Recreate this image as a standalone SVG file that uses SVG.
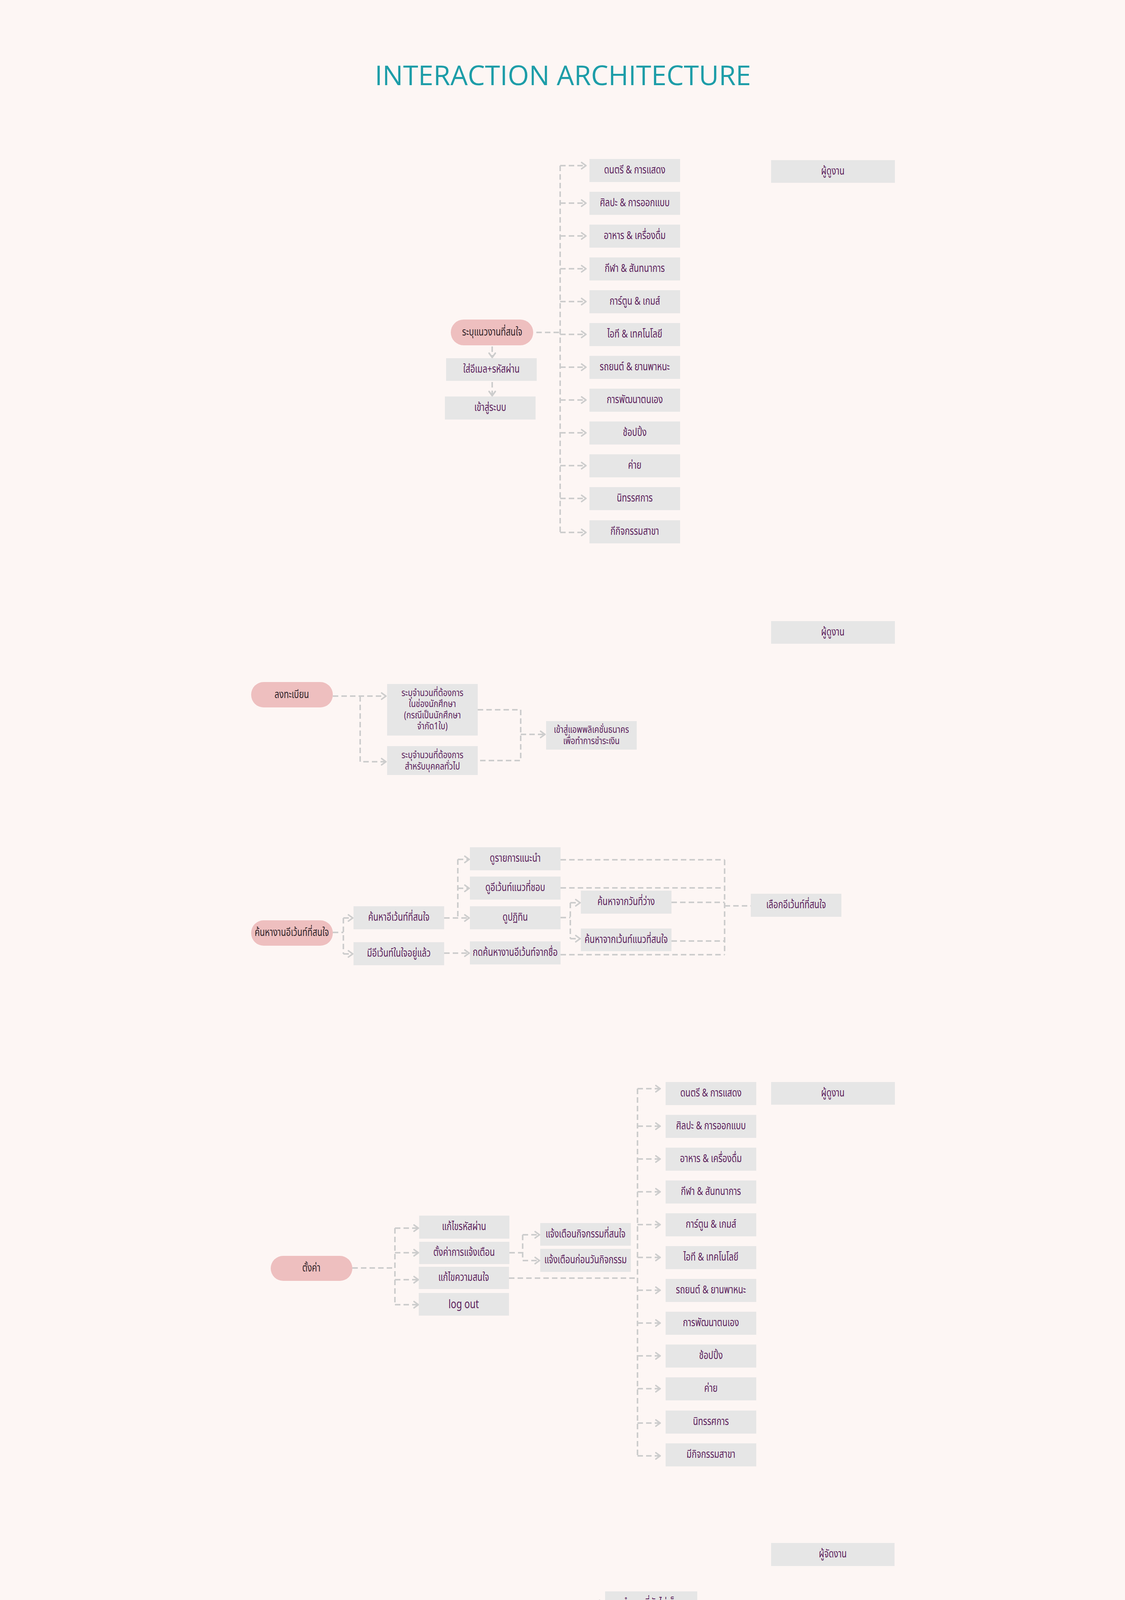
<svg xmlns="http://www.w3.org/2000/svg" width="2880" height="7128" viewBox="0 0 2880 7128">
<defs>
<style>
.box{fill:#e6e6e6}
.red{fill:#ff3434}
.pill{fill:#eebfbf}
.t{font-family:'Noto Sans Thai','Noto Sans','DejaVu Sans',sans-serif;font-size:28px;fill:#5c1e5c;text-anchor:middle;dominant-baseline:central}
.m{font-size:25px}
.pt{font-family:'Noto Sans Thai','Noto Sans','DejaVu Sans',sans-serif;font-size:28px;fill:#2e2228;text-anchor:middle;dominant-baseline:central}
.c{fill:none;stroke:#cdcdcd;stroke-width:4;stroke-dasharray:14 8}
.s{fill:none;stroke:#cdcdcd;stroke-width:4}
.a{marker-end:url(#ah)}
</style>
<marker id="ah" viewBox="0 0 16 20" refX="14" refY="10" markerWidth="16" markerHeight="20" markerUnits="userSpaceOnUse" orient="auto">
<path d="M3,2 L14,10 L3,18" fill="none" stroke="#cdcdcd" stroke-width="4" stroke-linecap="round" stroke-linejoin="round"/>
</marker>
</defs>
<rect x="0" y="0" width="2880" height="7128" fill="#fdf6f4"/>
<text x="1441" y="218" font-family="'Open Sans','Noto Sans',sans-serif" font-size="70" fill="#1d9da8" text-anchor="middle" textLength="963" lengthAdjust="spacingAndGlyphs">INTERACTION ARCHITECTURE</text>

<g id="connectors">
<path class="c a" d="M1260,887 V915"/>
<path class="c a" d="M1260,978 V1013"/>
<path class="c" d="M1373,851 H1434"/>
<path class="c" d="M1434,424 V1363"/>
<path class="c a" d="M1434,424 H1500"/>
<path class="c a" d="M1434,520 H1500"/>
<path class="c a" d="M1434,604 H1500"/>
<path class="c a" d="M1434,688 H1500"/>
<path class="c a" d="M1434,772 H1500"/>
<path class="c a" d="M1434,856 H1500"/>
<path class="c a" d="M1434,940 H1500"/>
<path class="c a" d="M1434,1024 H1500"/>
<path class="c a" d="M1434,1108 H1500"/>
<path class="c a" d="M1434,1192 H1500"/>
<path class="c a" d="M1434,1276 H1500"/>
<path class="c a" d="M1434,1363 H1500"/>
<path class="c a" d="M852,1782 H988"/>
<path class="c a" d="M922,1782 V1950 H988"/>
<path class="c" d="M1223,1817 H1333 V1947 H1223"/>
<path class="c a" d="M1333,1880 H1395"/>
<path class="c" d="M852,2387 H879"/>
<path class="c" d="M879,2350 V2442"/>
<path class="c a" d="M879,2350 H903"/>
<path class="c a" d="M879,2442 H903"/>
<path class="c a" d="M1137,2350 H1201"/>
<path class="c" d="M1172,2200 V2350"/>
<path class="c a" d="M1172,2200 H1201"/>
<path class="c a" d="M1172,2274 H1201"/>
<path class="c a" d="M1137,2440 H1201"/>
<path class="c" d="M1435,2349 H1460"/>
<path class="c" d="M1460,2311 V2403"/>
<path class="c a" d="M1460,2311 H1485"/>
<path class="c a" d="M1460,2403 H1485"/>
<path class="c" d="M1435,2201 H1855"/>
<path class="c" d="M1435,2273 H1855"/>
<path class="c" d="M1719,2310 H1855"/>
<path class="c" d="M1719,2409 H1855"/>
<path class="c" d="M1435,2444 H1855"/>
<path class="c" d="M1855,2201 V2444"/>
<path class="c" d="M1855,2319 H1922"/>
<path class="c" d="M902,3246 H1011"/>
<path class="c" d="M1011,3144 V3340"/>
<path class="c a" d="M1011,3144 H1071"/>
<path class="c a" d="M1011,3207 H1071"/>
<path class="c a" d="M1011,3276 H1071"/>
<path class="c a" d="M1011,3340 H1071"/>
<path class="c" d="M1304,3207 H1338"/>
<path class="c" d="M1338,3161 V3227"/>
<path class="c a" d="M1338,3161 H1381"/>
<path class="c a" d="M1338,3227 H1381"/>
<path class="c" d="M1303,3272 H1632"/>
<path class="c" d="M1632,2787 V3727"/>
<path class="c a" d="M1632,2787 H1690"/>
<path class="c a" d="M1632,2883 H1690"/>
<path class="c a" d="M1632,2967 H1690"/>
<path class="c a" d="M1632,3051 H1690"/>
<path class="c a" d="M1632,3135 H1690"/>
<path class="c a" d="M1632,3219 H1690"/>
<path class="c a" d="M1632,3303 H1690"/>
<path class="c a" d="M1632,3387 H1690"/>
<path class="c a" d="M1632,3471 H1690"/>
<path class="c a" d="M1632,3555 H1690"/>
<path class="c a" d="M1632,3643 H1690"/>
<path class="c a" d="M1632,3727 H1690"/>
<path class="c" d="M1031,4405 H1152"/>
<path class="c" d="M1152,4170 V4701"/>
<path class="c a" d="M1152,4170 H1212"/>
<path class="c a" d="M1152,4280 H1212"/>
<path class="c a" d="M1152,4380 H1212"/>
<path class="c a" d="M1152,4500 H1212"/>
<path class="c a" d="M1152,4609 H1212"/>
<path class="c a" d="M1152,4701 H1212"/>
<path class="c" d="M1483,4189 H1514"/>
<path class="c" d="M1514,4105 V4189"/>
<path class="c a" d="M1514,4105 H1546"/>
<path class="c a" d="M1514,4189 H1546"/>
<path class="c" d="M1478,4278 H1846"/>
<path class="c" d="M1813,4198 V4278"/>
<path class="c" d="M1813,4198 H1846"/>
<path class="c" d="M1483,4391 H1511"/>
<path class="c" d="M1511,4391 V4461"/>
<path class="c a" d="M1511,4391 H1545"/>
<path class="c a" d="M1511,4461 H1545"/>
<path class="c" d="M1783,4459 H1815"/>
<path class="c" d="M1815,4393 V4459"/>
<path class="c a" d="M1815,4393 H1846"/>
<path class="c a" d="M1815,4459 H1846"/>
<path class="c" d="M1487,4607 H1513"/>
<path class="c" d="M1513,4536 V4607"/>
<path class="c a" d="M1513,4536 H1543"/>
<path class="c a" d="M1513,4607 H1543"/>
<path class="c" d="M1487,4689 H1516"/>
<path class="c" d="M1516,4689 V4758"/>
<path class="c a" d="M1516,4689 H1547"/>
<path class="c a" d="M1516,4758 H1547"/>
<path class="c" d="M902,5606 H1015"/>
<path class="c a" d="M958,5606 V5272 H1073"/>
<path class="c" d="M1015,5370 V5902"/>
<path class="c a" d="M1015,5370 H1073"/>
<path class="c a" d="M1015,5435 H1073"/>
<path class="c a" d="M1015,5504 H1073"/>
<path class="c a" d="M1015,5568 H1073"/>
<path class="c a" d="M1015,5636 H1073"/>
<path class="c a" d="M1015,5700 H1073"/>
<path class="c a" d="M1015,5770 H1073"/>
<path class="c a" d="M1015,5835 H1073"/>
<path class="c a" d="M1015,5902 H1073"/>
<path class="c" d="M1308,5835 H1338"/>
<path class="c" d="M1338,5770 V5835"/>
<path class="c a" d="M1338,5770 H1365"/>
<path class="c a" d="M1338,5835 H1365"/>
<path class="c" d="M1308,5902 H1338"/>
<path class="c" d="M1338,5902 V5970"/>
<path class="c a" d="M1338,5902 H1365"/>
<path class="c a" d="M1338,5970 H1365"/>
<path class="c" d="M1600,5968 H1633"/>
<path class="c" d="M1633,5904 V5968"/>
<path class="c a" d="M1633,5904 H1659"/>
<path class="c a" d="M1633,5968 H1659"/>
<path class="c a" d="M1894,5899 H1953"/>
<path class="c a" d="M1431,6616 H1324 V6669"/>
<path class="c a" d="M1641,6616 H1727 V6669"/>
<path class="s a" d="M1322,6771 V6799"/>
<path class="s a" d="M1322,6864 V6913"/>
<path class="c" d="M1068,6891 H1575"/>
<path class="c a" d="M1068,6891 V6913"/>
<path class="c a" d="M1575,6891 V6913"/>
</g>

<g id="s1-role"><rect class="box" x="1974" y="410" width="317" height="58"/><text class="t" transform="translate(2132 439) scale(0.76 1)">ผู้ดูงาน</text></g>
<g id="s1-pill"><rect class="pill" x="1154" y="818" width="211" height="66" rx="33"/><text class="pt" transform="translate(1260 851) scale(0.76 1)">ระบุแนวงานที่สนใจ</text></g>
<g id="s1-email"><rect class="box" x="1142" y="917" width="232" height="58"/><text class="t" transform="translate(1258 946) scale(0.76 1)">ใส่อีเมล+รหัสผ่าน</text></g>
<g id="s1-login"><rect class="box" x="1139" y="1015" width="232" height="59"/><text class="t" transform="translate(1255 1044) scale(0.76 1)">เข้าสู่ระบบ</text></g>
<g id="s1-c1"><rect class="box" x="1509" y="407" width="232" height="59"/><text class="t" transform="translate(1625 436) scale(0.76 1)">ดนตรี &amp; การแสดง</text></g>
<g id="s1-c2"><rect class="box" x="1509" y="491" width="232" height="59"/><text class="t" transform="translate(1625 520) scale(0.76 1)">ศิลปะ &amp; การออกแบบ</text></g>
<g id="s1-c3"><rect class="box" x="1509" y="575" width="232" height="59"/><text class="t" transform="translate(1625 604) scale(0.76 1)">อาหาร &amp; เครื่องดื่ม</text></g>
<g id="s1-c4"><rect class="box" x="1509" y="659" width="232" height="59"/><text class="t" transform="translate(1625 688) scale(0.76 1)">กีฬา &amp; สันทนาการ</text></g>
<g id="s1-c5"><rect class="box" x="1509" y="743" width="232" height="59"/><text class="t" transform="translate(1625 772) scale(0.76 1)">การ์ตูน &amp; เกมส์</text></g>
<g id="s1-c6"><rect class="box" x="1509" y="827" width="232" height="59"/><text class="t" transform="translate(1625 856) scale(0.76 1)">ไอที &amp; เทคโนโลยี</text></g>
<g id="s1-c7"><rect class="box" x="1509" y="911" width="232" height="59"/><text class="t" transform="translate(1625 940) scale(0.76 1)">รถยนต์ &amp; ยานพาหนะ</text></g>
<g id="s1-c8"><rect class="box" x="1509" y="995" width="232" height="59"/><text class="t" transform="translate(1625 1024) scale(0.76 1)">การพัฒนาตนเอง</text></g>
<g id="s1-c9"><rect class="box" x="1509" y="1079" width="232" height="59"/><text class="t" transform="translate(1625 1108) scale(0.76 1)">ช้อปปิ้ง</text></g>
<g id="s1-c10"><rect class="box" x="1509" y="1163" width="232" height="59"/><text class="t" transform="translate(1625 1192) scale(0.76 1)">ค่าย</text></g>
<g id="s1-c11"><rect class="box" x="1509" y="1247" width="232" height="59"/><text class="t" transform="translate(1625 1276) scale(0.76 1)">นิทรรศการ</text></g>
<g id="s1-c12"><rect class="box" x="1509" y="1332" width="232" height="59"/><text class="t" transform="translate(1625 1361) scale(0.76 1)">กีกิจกรรมสาขา</text></g>

<g id="s2-role"><rect class="box" x="1974" y="1590" width="317" height="58"/><text class="t" transform="translate(2132 1619) scale(0.76 1)">ผู้ดูงาน</text></g>
<g id="s2-pill"><rect class="pill" x="643" y="1746" width="209" height="65" rx="32"/><text class="pt" transform="translate(747 1779) scale(0.76 1)">ลงทะเบียน</text></g>
<g id="s2-student"><rect class="box" x="991" y="1751" width="232" height="132"/>
<text class="t m" transform="translate(1107 1774) scale(0.8 1)">ระบุจำนวนที่ต้องการ</text>
<text class="t m" transform="translate(1107 1802) scale(0.8 1)">ในช่องนักศึกษา</text>
<text class="t m" transform="translate(1107 1831) scale(0.8 1)">(กรณีเป็นนักศึกษา</text>
<text class="t m" transform="translate(1107 1859) scale(0.8 1)">จำกัด1ใบ)</text></g>
<g id="s2-general"><rect class="box" x="991" y="1910" width="232" height="74"/>
<text class="t m" transform="translate(1107 1933) scale(0.8 1)">ระบุจำนวนที่ต้องการ</text>
<text class="t m" transform="translate(1107 1962) scale(0.8 1)">สำหรับบุคคลทั่วไป</text></g>
<g id="s2-bank"><rect class="box" x="1398" y="1846" width="232" height="73"/>
<text class="t m" transform="translate(1514 1868) scale(0.8 1)">เข้าสู่แอพพลิเคชั่นธนาคร</text>
<text class="t m" transform="translate(1514 1897) scale(0.8 1)">เพื่อทำการชำระเงิน</text></g>

<g id="s3-pill"><rect class="pill" x="643" y="2356" width="209" height="65" rx="32"/><text class="pt" transform="translate(747 2388) scale(0.76 1)">ค้นหางานอีเว้นท์ที่สนใจ</text></g>
<g id="s3-search"><rect class="box" x="905" y="2320" width="232" height="59"/><text class="t" transform="translate(1021 2349) scale(0.76 1)">ค้นหาอีเว้นท์ที่สนใจ</text></g>
<g id="s3-have"><rect class="box" x="905" y="2412" width="232" height="59"/><text class="t" transform="translate(1021 2441) scale(0.76 1)">มีอีเว้นท์ในใจอยู่แล้ว</text></g>
<g id="s3-rec"><rect class="box" x="1203" y="2169" width="232" height="59"/><text class="t" transform="translate(1319 2198) scale(0.76 1)">ดูรายการแนะนำ</text></g>
<g id="s3-genre"><rect class="box" x="1203" y="2244" width="232" height="59"/><text class="t" transform="translate(1319 2273) scale(0.76 1)">ดูอีเว้นท์แนวที่ชอบ</text></g>
<g id="s3-cal"><rect class="box" x="1203" y="2320" width="232" height="59"/><text class="t" transform="translate(1319 2349) scale(0.76 1)">ดูปฏิทิน</text></g>
<g id="s3-name"><rect class="box" x="1203" y="2410" width="232" height="59"/><text class="t" transform="translate(1319 2439) scale(0.76 1)">กดค้นหางานอีเว้นท์จากชื่อ</text></g>
<g id="s3-free"><rect class="box" x="1487" y="2280" width="232" height="59"/><text class="t" transform="translate(1603 2309) scale(0.76 1)">ค้นหาจากวันที่ว่าง</text></g>
<g id="s3-type"><rect class="box" x="1487" y="2377" width="232" height="58"/><text class="t" transform="translate(1603 2406) scale(0.76 1)">ค้นหาจากเว้นท์แนวที่สนใจ</text></g>
<g id="s3-pick"><rect class="box" x="1922" y="2288" width="232" height="59"/><text class="t" transform="translate(2038 2317) scale(0.76 1)">เลือกอีเว้นท์ที่สนใจ</text></g>

<g id="s4-role"><rect class="box" x="1974" y="2770" width="317" height="58"/><text class="t" transform="translate(2132 2799) scale(0.76 1)">ผู้ดูงาน</text></g>
<g id="s4-pill"><rect class="pill" x="693" y="3215" width="209" height="64" rx="32"/><text class="pt" transform="translate(797 3247) scale(0.76 1)">ตั้งค่า</text></g>
<g id="s4-pass"><rect class="box" x="1073" y="3112" width="231" height="59"/><text class="t" transform="translate(1188 3141) scale(0.76 1)">แก้ไขรหัสผ่าน</text></g>
<g id="s4-noti"><rect class="box" x="1073" y="3179" width="231" height="57"/><text class="t" transform="translate(1188 3207) scale(0.76 1)">ตั้งค่าการแจ้งเตือน</text></g>
<g id="s4-interest"><rect class="box" x="1072" y="3243" width="231" height="57"/><text class="t" transform="translate(1187 3271) scale(0.76 1)">แก้ไขความสนใจ</text></g>
<g id="s4-logout"><rect class="box" x="1072" y="3310" width="231" height="58"/><text class="t" transform="translate(1187 3339) scale(0.76 1)" style="font-size:31px">log out</text></g>
<g id="s4-n1"><rect class="box" x="1383" y="3131" width="232" height="58"/><text class="t" transform="translate(1499 3160) scale(0.76 1)">แจ้งเตือนกิจกรรมที่สนใจ</text></g>
<g id="s4-n2"><rect class="box" x="1383" y="3197" width="232" height="59"/><text class="t" transform="translate(1499 3226) scale(0.76 1)">แจ้งเตือนก่อนวันกิจกรรม</text></g>
<g id="s4-c1"><rect class="box" x="1704" y="2770" width="232" height="59"/><text class="t" transform="translate(1820 2799) scale(0.76 1)">ดนตรี &amp; การแสดง</text></g>
<g id="s4-c2"><rect class="box" x="1704" y="2854" width="232" height="59"/><text class="t" transform="translate(1820 2883) scale(0.76 1)">ศิลปะ &amp; การออกแบบ</text></g>
<g id="s4-c3"><rect class="box" x="1704" y="2938" width="232" height="59"/><text class="t" transform="translate(1820 2967) scale(0.76 1)">อาหาร &amp; เครื่องดื่ม</text></g>
<g id="s4-c4"><rect class="box" x="1704" y="3022" width="232" height="59"/><text class="t" transform="translate(1820 3051) scale(0.76 1)">กีฬา &amp; สันทนาการ</text></g>
<g id="s4-c5"><rect class="box" x="1704" y="3106" width="232" height="59"/><text class="t" transform="translate(1820 3135) scale(0.76 1)">การ์ตูน &amp; เกมส์</text></g>
<g id="s4-c6"><rect class="box" x="1704" y="3190" width="232" height="59"/><text class="t" transform="translate(1820 3219) scale(0.76 1)">ไอที &amp; เทคโนโลยี</text></g>
<g id="s4-c7"><rect class="box" x="1704" y="3274" width="232" height="59"/><text class="t" transform="translate(1820 3303) scale(0.76 1)">รถยนต์ &amp; ยานพาหนะ</text></g>
<g id="s4-c8"><rect class="box" x="1704" y="3358" width="232" height="59"/><text class="t" transform="translate(1820 3387) scale(0.76 1)">การพัฒนาตนเอง</text></g>
<g id="s4-c9"><rect class="box" x="1704" y="3442" width="232" height="59"/><text class="t" transform="translate(1820 3471) scale(0.76 1)">ช้อปปิ้ง</text></g>
<g id="s4-c10"><rect class="box" x="1704" y="3526" width="232" height="59"/><text class="t" transform="translate(1820 3555) scale(0.76 1)">ค่าย</text></g>
<g id="s4-c11"><rect class="box" x="1704" y="3611" width="232" height="59"/><text class="t" transform="translate(1820 3640) scale(0.76 1)">นิทรรศการ</text></g>
<g id="s4-c12"><rect class="box" x="1704" y="3695" width="232" height="59"/><text class="t" transform="translate(1820 3724) scale(0.76 1)">มีกิจกรรมสาขา</text></g>

<g id="s5-role"><rect class="box" x="1974" y="3950" width="316" height="59"/><text class="t" transform="translate(2132 3979) scale(0.76 1)">ผู้จัดงาน</text></g>
<g id="s5-pill"><rect class="pill" x="796" y="4367" width="235" height="65" rx="32"/><text class="pt" transform="translate(913 4400) scale(0.76 1)">เช็คผู้เข้าร่วม</text></g>
<g id="s5-a1"><rect class="box" x="1242" y="4145" width="236" height="60"/><text class="t" transform="translate(1360 4175) scale(0.76 1)">เช็คจำนวนผู้ลงทะเบียน</text></g>
<g id="s5-a2"><rect class="box" x="1242" y="4249" width="236" height="60"/><text class="t" transform="translate(1360 4279) scale(0.76 1)">เช็ครายชื่อผู้ลงทะเบียน</text></g>
<g id="s5-a3"><rect class="box" x="1242" y="4349" width="236" height="60"/><text class="t" transform="translate(1360 4379) scale(0.76 1)">เช็คสัดส่วนผู้ลงทะเบียน</text></g>
<g id="s5-a4"><rect class="box" x="1242" y="4444" width="236" height="60"/><text class="t" transform="translate(1360 4474) scale(0.76 1)">เปิดระบบสแกนก่อนเข้างาน</text></g>
<g id="s5-a5"><rect class="box" x="1242" y="4577" width="236" height="60"/><text class="t" transform="translate(1360 4607) scale(0.76 1)">จัดการผู้ลงทะเบียน</text></g>
<g id="s5-a6"><rect class="box" x="1242" y="4669" width="236" height="60"/><text class="t" transform="translate(1360 4699) scale(0.76 1)">เช็คจำนวนผู้เข้าร่วม</text></g>
<g id="s5-b1"><rect class="box" x="1549" y="4074" width="236" height="60"/><text class="t" transform="translate(1667 4104) scale(0.76 1)">จำนวนที่ยังไม่เต็ม</text></g>
<g id="s5-b2"><rect class="box" x="1549" y="4161" width="236" height="60"/><text class="t" transform="translate(1667 4191) scale(0.76 1)">จำนวนที่เต็มแล้ว</text></g>
<g id="s5-b3"><rect class="box" x="1547" y="4353" width="236" height="60"/><text class="t" transform="translate(1665 4383) scale(0.76 1)">เพศ</text></g>
<g id="s5-b4"><rect class="box" x="1547" y="4436" width="236" height="60"/><text class="t" transform="translate(1665 4466) scale(0.76 1)">บัตร</text></g>
<g id="s5-b5"><rect class="red" x="1545" y="4503" width="236" height="60"/><text class="t" transform="translate(1663 4533) scale(0.76 1)">บล็อก</text></g>
<g id="s5-b6"><rect class="box" x="1545" y="4578" width="236" height="60"/><text class="t" transform="translate(1663 4608) scale(0.76 1)">กดยืนยันการมา</text></g>
<g id="s5-b7"><rect class="box" x="1549" y="4661" width="236" height="60"/><text class="t" transform="translate(1667 4691) scale(0.76 1)">จำนวนที่ยังไม่เต็ม</text></g>
<g id="s5-b8"><rect class="box" x="1549" y="4744" width="236" height="60"/><text class="t" transform="translate(1667 4774) scale(0.76 1)">จำนวนที่เต็มแล้ว</text></g>
<g id="s5-d1"><rect class="box" x="1846" y="4167" width="236" height="59"/><text class="t" transform="translate(1964 4196) scale(0.76 1)">ดูเวลาในการลงทะเบียน</text></g>
<g id="s5-d2"><rect class="box" x="1846" y="4240" width="236" height="76"/>
<text class="t m" transform="translate(1964 4263) scale(0.8 1)">สำหรับตรวจสอบเมื่อมีคน</text>
<text class="t m" transform="translate(1964 4292) scale(0.8 1)">โทรมาถาม</text></g>
<g id="s5-d3"><rect class="box" x="1848" y="4353" width="236" height="60"/><text class="t" transform="translate(1966 4383) scale(0.76 1)">นักศึกษา</text></g>
<g id="s5-d4"><rect class="box" x="1848" y="4436" width="236" height="60"/><text class="t" transform="translate(1966 4466) scale(0.76 1)">บุคคลทั่วไป</text></g>

<g id="s6-role"><rect class="box" x="1974" y="5130" width="317" height="58"/><text class="t" transform="translate(2132 5159) scale(0.76 1)">ผู้จัดงาน</text></g>
<g id="s6-pill"><rect class="pill" x="692" y="5575" width="210" height="65" rx="32"/><text class="pt" transform="translate(797 5607) scale(0.76 1)">พิมพ์รายละเอียดงาน</text></g>
<g id="s6-a0"><rect class="box" x="1077" y="5242" width="231" height="59"/><text class="t" transform="translate(1192 5271) scale(0.76 1)">ดูตัวอย่างการพิมพ์</text></g>
<g id="s6-a1"><rect class="box" x="1077" y="5340" width="231" height="59"/><text class="t" transform="translate(1192 5369) scale(0.76 1)">โปสเตอร์</text></g>
<g id="s6-a2"><rect class="box" x="1077" y="5406" width="231" height="59"/><text class="t" transform="translate(1192 5435) scale(0.76 1)">ชื่องาน</text></g>
<g id="s6-a3"><rect class="box" x="1077" y="5472" width="231" height="59"/><text class="t" transform="translate(1192 5501) scale(0.76 1)">วัน และเวลากิจกรรม</text></g>
<g id="s6-a4"><rect class="box" x="1077" y="5538" width="231" height="59"/><text class="t" transform="translate(1192 5567) scale(0.76 1)">สถานที่</text></g>
<g id="s6-a5"><rect class="box" x="1076" y="5604" width="231" height="59"/><text class="t" transform="translate(1191 5633) scale(0.76 1)">งานปิด/เปิด</text></g>
<g id="s6-a6"><rect class="box" x="1076" y="5670" width="231" height="59"/><text class="t" transform="translate(1191 5699) scale(0.76 1)">รายละเอียดกิจกรรม</text></g>
<g id="s6-a7"><rect class="box" x="1076" y="5736" width="231" height="60"/><text class="t" transform="translate(1191 5766) scale(0.76 1)">เลือกประเภทงาน</text></g>
<g id="s6-a8"><rect class="box" x="1076" y="5805" width="231" height="60"/><text class="t" transform="translate(1191 5835) scale(0.76 1)">ระบุจำนวนคน</text></g>
<g id="s6-a9"><rect class="box" x="1076" y="5871" width="231" height="60"/><text class="t" transform="translate(1191 5901) scale(0.76 1)">ราคาบัตร</text></g>
<g id="s6-b1"><rect class="box" x="1368" y="5736" width="232" height="60"/><text class="t" transform="translate(1484 5766) scale(0.76 1)">จำกัดจำนวนคน</text></g>
<g id="s6-b2"><rect class="box" x="1368" y="5803" width="232" height="59"/><text class="t" transform="translate(1484 5832) scale(0.76 1)">ไม่จำกัดจำนวนคน</text></g>
<g id="s6-b3"><rect class="box" x="1368" y="5870" width="232" height="59"/><text class="t" transform="translate(1484 5899) scale(0.76 1)">ฟรี</text></g>
<g id="s6-b4"><rect class="box" x="1368" y="5937" width="232" height="58"/><text class="t" transform="translate(1484 5966) scale(0.76 1)">ซื้อบัตร</text></g>
<g id="s6-c1"><rect class="box" x="1662" y="5869" width="232" height="59"/><text class="t" transform="translate(1778 5898) scale(0.76 1)">ราคานักศึกษา</text></g>
<g id="s6-c2"><rect class="box" x="1662" y="5936" width="232" height="58"/><text class="t" transform="translate(1778 5965) scale(0.76 1)">ราคาบุคคลทั่วไป</text></g>
<g id="s6-d1"><rect class="box" x="1956" y="5865" width="232" height="59"/><text class="t" transform="translate(2072 5894) scale(0.76 1)">จำกัด 1 ใบ</text></g>

<g id="s7-role"><rect class="box" x="1974" y="6310" width="317" height="59"/><text class="t" transform="translate(2132 6339) scale(0.76 1)">ผู้จัดงาน</text></g>
<g id="s7-pill"><rect class="pill" x="1431" y="6580" width="210" height="66" rx="33"/><text class="pt" transform="translate(1536 6613) scale(0.76 1)">เพิ่มโพสต์</text></g>
<g id="s7-detail"><rect class="box" x="1206" y="6672" width="232" height="99"/><text class="t" transform="translate(1322 6721) scale(0.76 1)">พิมพ์รายละเอียดงาน</text></g>
<g id="s7-preview"><rect class="box" x="1609" y="6672" width="233" height="59"/><text class="t" transform="translate(1725 6701) scale(0.76 1)">ดูตัวอย่างการพิมพ์</text></g>
<g id="s7-post"><rect class="box" x="1204" y="6801" width="236" height="61"/><text class="t" transform="translate(1322 6831) scale(0.76 1)">โพสต์</text></g>
<g id="s7-edit"><rect class="box" x="951" y="6915" width="236" height="61"/><text class="t" transform="translate(1069 6945) scale(0.76 1)">แก้ไข</text></g>
<g id="s7-del"><rect class="box" x="1204" y="6915" width="236" height="61"/><text class="t" transform="translate(1322 6945) scale(0.76 1)">ลบ</text></g>
<g id="s7-check"><rect class="box" x="1457" y="6915" width="237" height="61"/><text class="t" transform="translate(1575 6945) scale(0.76 1)">เช็คผู้เข้าร่วม</text></g>
</svg>
